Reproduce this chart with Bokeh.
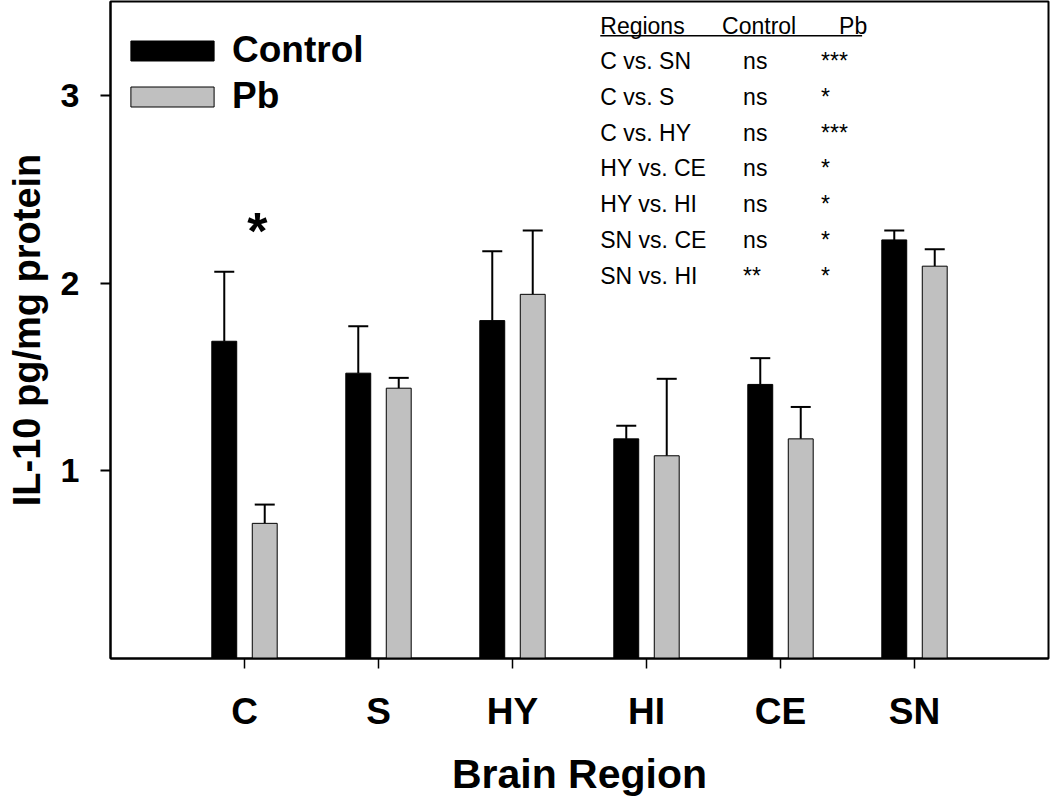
import numpy as np
import pandas as pd
from bokeh.plotting import figure
from bokeh.models import (ColumnDataSource, Range1d, FixedTicker, Whisker, TeeHead,
                          Legend, LegendItem)
from bokeh.core.properties import value
from bokeh.embed import file_html
from bokeh.resources import INLINE

# ---------------- data ----------------
regions = ["C", "S", "HY", "HI", "CE", "SN"]
control_mean = [1.69, 1.52, 1.80, 1.17, 1.46, 2.23]
control_sem = [0.37, 0.25, 0.37, 0.07, 0.14, 0.05]
pb_mean = [0.72, 1.44, 1.94, 1.08, 1.17, 2.09]
pb_sem = [0.10, 0.055, 0.34, 0.41, 0.17, 0.09]

table_header = ["Regions", "Control", "Pb"]
comparisons = ["C vs. SN", "C vs. S", "C vs. HY", "HY vs. CE", "HY vs. HI", "SN vs. CE", "SN vs. HI"]
control_sig = ["ns", "ns", "ns", "ns", "ns", "ns", "**"]
pb_sig = ["***", "*", "***", "*", "*", "*", "*"]
y_ticks = [1, 2, 3]
x_title = "Brain Region"
y_title = "IL-10 pg/mg protein"

FONT = "Liberation Sans"

# ---------------- layout constants ----------------
pos = np.arange(1, len(regions) + 1)
OFF = 0.151
BW = 0.186

df = pd.DataFrame(dict(
    x=pos,
    xc=pos - OFF,
    xp=pos + OFF,
    cm=control_mean,
    cu=np.array(control_mean) + np.array(control_sem),
    pm=pb_mean,
    pu=np.array(pb_mean) + np.array(pb_sem),
))
src = ColumnDataSource(df)

p = figure(width=1050, height=807,
           x_range=Range1d(0, 7.0), y_range=Range1d(0, 3.5),
           output_backend="svg", toolbar_location=None,
           min_border_left=110, min_border_right=2, min_border_top=1,
           min_border_bottom=149)
p.xgrid.visible = False
p.ygrid.visible = False
p.outline_line_color = "black"
p.outline_line_width = 2
p.background_fill_color = "white"
p.border_fill_color = "white"

# bars
r_c = p.vbar(x="xc", top="cm", bottom=0, width=BW, fill_color="black",
             line_color="black", line_width=1, source=src)
r_p = p.vbar(x="xp", top="pm", bottom=0, width=BW, fill_color="#c0c0c0",
             line_color="black", line_width=1, source=src)

# error bars (upper only)
for base, low, up in (("xc", "cm", "cu"), ("xp", "pm", "pu")):
    w = Whisker(source=src, base=base, lower=low, upper=up, dimension="height",
                line_color="black", line_width=2,
                upper_head=TeeHead(size=20, line_width=2, line_color="black"),
                lower_head=None)
    p.add_layout(w)

# x axis
xa = p.xaxis[0]
xa.ticker = FixedTicker(ticks=list(pos))
xa.major_label_overrides = {int(i): r for i, r in zip(pos, regions)}
xa.major_label_text_font = FONT
xa.major_label_text_font_size = "37px"
xa.major_label_text_font_style = "bold"
xa.major_label_text_color = "black"
xa.major_label_standoff = 22
xa.major_tick_out = 10
xa.major_tick_in = 0
xa.minor_tick_out = 0
xa.minor_tick_in = 0
xa.major_tick_line_width = 1.5
xa.axis_line_width = 2
xa.axis_line_color = "black"
xa.major_tick_line_color = "black"
xa.axis_label = x_title
xa.axis_label_text_font = FONT
xa.axis_label_text_font_size = "41px"
xa.axis_label_text_font_style = "bold"
xa.axis_label_text_color = "black"
xa.axis_label_standoff = 16

# y axis
ya = p.yaxis[0]
ya.ticker = FixedTicker(ticks=y_ticks)
ya.major_label_text_font = FONT
ya.major_label_text_font_size = "34px"
ya.major_label_text_font_style = "bold"
ya.major_label_text_color = "black"
ya.major_label_standoff = 21
ya.major_tick_out = 10
ya.major_tick_in = 0
ya.minor_tick_out = 0
ya.minor_tick_in = 0
ya.major_tick_line_width = 2
ya.axis_line_width = 2
ya.axis_line_color = "black"
ya.major_tick_line_color = "black"
ya.axis_label = y_title
ya.axis_label_text_font = FONT
ya.axis_label_text_font_size = "38px"
ya.axis_label_text_font_style = "bold"
ya.axis_label_text_color = "black"
ya.axis_label_standoff = 10

# legend
legend = Legend(items=[LegendItem(label="Control", renderers=[r_c]),
                       LegendItem(label="Pb", renderers=[r_p])],
                location=(10, 541), margin=0, padding=0, spacing=4,
                glyph_width=104, glyph_height=25, label_height=40,
                label_standoff=8,
                label_text_font=FONT, label_text_font_size="37px",
                label_text_font_style="bold", label_text_color="black",
                border_line_alpha=0, background_fill_alpha=0)
p.add_layout(legend)

# significance star above C
p.text(x=[pos[0] + 0.096], y=[2.275], text=["*"], text_font=value(FONT),
       text_font_style="bold", text_font_size="52px", text_color="black",
       text_align="center", text_baseline="alphabetic")

# comparison table
hdr_x = [3.655, 4.564, 5.437]
col_x = [3.655, 4.721, 5.303]
hdr_y = 3.368
row_dy = 0.1907
row_y0 = 3.183
p.text(x=hdr_x, y=[hdr_y] * 3, text=table_header, text_font=value(FONT),
       text_font_size="23px", text_color="black", text_align="left",
       text_baseline="alphabetic")
p.segment(x0=[hdr_x[0]], x1=[5.609], y0=[3.317], y1=[3.317],
          line_color="black", line_width=1.5)
rows_y = [row_y0 - i * row_dy for i in range(len(comparisons))]
for cx, col in zip(col_x, (comparisons, control_sig, pb_sig)):
    p.text(x=[cx] * len(col), y=rows_y, text=col, text_font=value(FONT),
           text_font_size="23px", text_color="black", text_align="left",
           text_baseline="alphabetic")

open("out.html", "w").write(file_html(p, INLINE))
